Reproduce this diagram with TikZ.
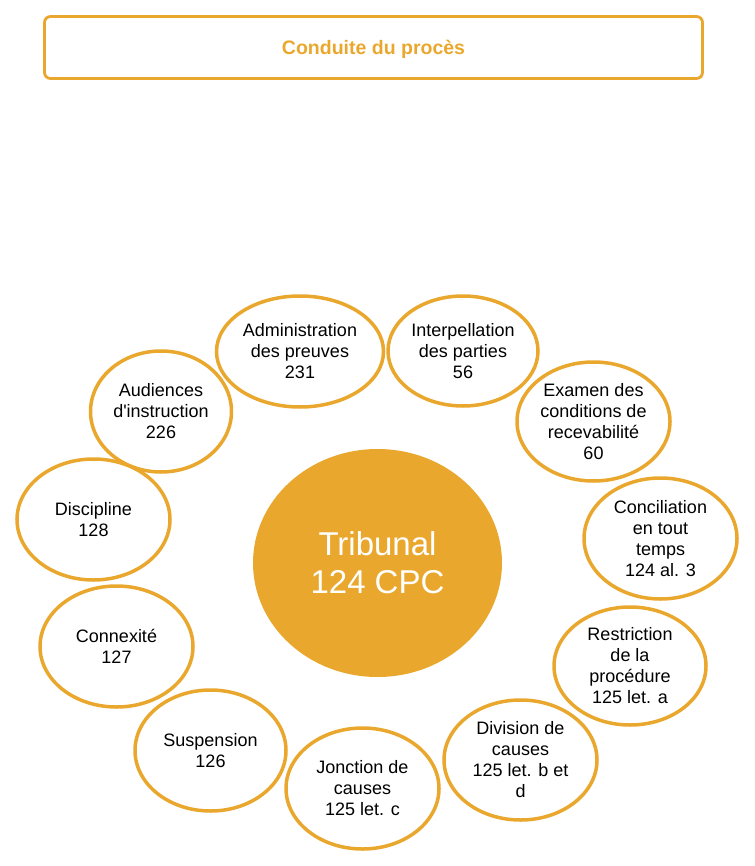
\documentclass[tikz,border=0pt]{standalone}
\usepackage{fontspec}
\setmainfont{Liberation Sans}[Ligatures=TeXOff]
\usetikzlibrary{shapes.geometric}
\definecolor{gold}{RGB}{233,168,45}
\begin{document}
\begin{tikzpicture}[x=1pt,y=-1pt,
  ring/.style={draw=gold, line width=3.5pt, ellipse, inner sep=0pt, align=center,
    font=\fontsize{18}{21}\selectfont, text=black},
  core/.style={fill=gold, ellipse, inner sep=0pt, align=center,
    font=\fontsize{33}{38}\selectfont, text=white},
  titlebox/.style={draw=gold, line width=2.8pt, rounded corners=6pt, inner sep=0pt,
    text=gold, font=\fontsize{19.5}{23}\bfseries\selectfont, text height=14pt, text depth=0pt}
]
\useasboundingbox (0,0) rectangle (754,866);
\node[titlebox, minimum width=658pt, minimum height=62pt] (title) at (373.5,47.5) {Conduite du procès};
\node[core, minimum width=249pt, minimum height=228pt] (trib) at (377.5,563) {Tribunal\\124 CPC};
\node[ring, minimum width=167pt, minimum height=111pt] (adm) at (300,351.5) {Administration\\des preuves\\231};
\node[ring, minimum width=150pt, minimum height=110pt] (int) at (463,351) {Interpellation\\des parties\\56};
\node[ring, minimum width=141pt, minimum height=121pt] (aud) at (161,411.5) {Audiences\\d'instruction\\226};
\node[ring, minimum width=153pt, minimum height=121pt] (dis) at (93.5,519.5) {Discipline\\128};
\node[ring, minimum width=153pt, minimum height=119pt] (exa) at (593.5,421.5) {Examen des\\conditions de\\recevabilité\\60};
\node[ring, minimum width=153pt, minimum height=121pt] (con) at (660.5,538.5) {Conciliation\\en tout\\temps\\124 al. 3};
\node[ring, minimum width=152pt, minimum height=118pt] (res) at (630,666) {Restriction\\de la\\procédure\\125 let. a};
\node[ring, minimum width=153pt, minimum height=120pt] (div) at (520.5,760) {Division de\\causes\\125 let. b et\\d};
\node[ring, minimum width=153pt, minimum height=121pt] (jon) at (362.5,788.5) {Jonction de\\causes\\125 let. c};
\node[ring, minimum width=151pt, minimum height=121pt] (sus) at (210.5,750.5) {Suspension\\126};
\node[ring, minimum width=153pt, minimum height=121pt] (cnx) at (116.5,646.5) {Connexité\\127};
\end{tikzpicture}
\end{document}
